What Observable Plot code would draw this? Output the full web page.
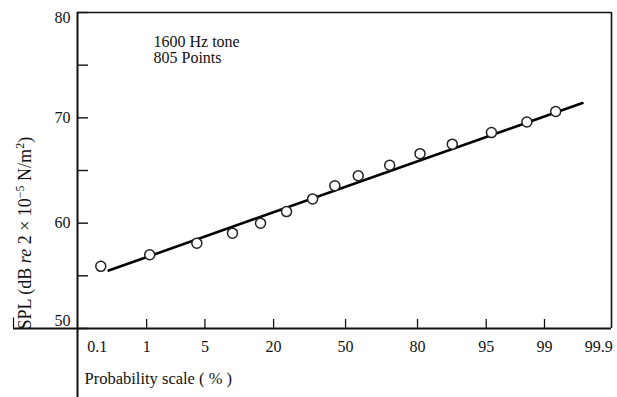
<!DOCTYPE html>
<html><head><meta charset="utf-8">
<script src="https://cdn.jsdelivr.net/npm/d3@7"></script>
<script src="https://cdn.jsdelivr.net/npm/@observablehq/plot@0.6"></script>
<style>
html,body{margin:0;padding:0;background:#fff;}
</style></head><body><div id="chart"></div>
<script>
// ---- data ----
const cumulativePercent = [0.21, 1.1, 4.1, 9.3, 16.0, 24.5, 35.0, 45.0, 55.9, 69.7, 80.8, 89.4, 95.6, 98.3, 99.3];
const splDb = [55.9, 57.0, 58.1, 59.05, 60.0, 61.1, 62.3, 63.55, 64.5, 65.5, 66.6, 67.5, 68.6, 69.6, 70.6];
const fitPercent = [0.28, 99.72];
const fitSplDb = [55.5, 71.4];
const xTickPercents = [1, 5, 20, 50, 80, 95, 99];
const xEndLabels = [0.1, 99.9];
const yLabelTicks = [50, 60, 70, 80];
const yTickMarks = [50, 55, 60, 65, 70, 75, 80];
const annotationLines = ["1600 Hz tone", "805 Points"];
const xAxisTitle = "Probability scale ( % )";

// ---- inverse normal CDF (probability paper) ----
function probit(p) {
  const a = [-3.969683028665376e+01, 2.209460984245205e+02, -2.759285104469687e+02, 1.383577518672690e+02, -3.066479806614716e+01, 2.506628277459239e+00];
  const b = [-5.447609879822406e+01, 1.615858368580409e+02, -1.556989798598866e+02, 6.680131188771972e+01, -1.328068155288572e+01];
  const c = [-7.784894002430293e-03, -3.223964580411365e-01, -2.400758277161838e+00, -2.549732539343734e+00, 4.374664141464968e+00, 2.938163982698783e+00];
  const d = [7.784695709041462e-03, 3.224671290700398e-01, 2.445134137142996e+00, 3.754408661907416e+00];
  const pl = 0.02425, ph = 1 - pl;
  let q, r;
  if (p < pl) { q = Math.sqrt(-2 * Math.log(p)); return (((((c[0]*q+c[1])*q+c[2])*q+c[3])*q+c[4])*q+c[5]) / ((((d[0]*q+d[1])*q+d[2])*q+d[3])*q+1); }
  if (p <= ph) { q = p - 0.5; r = q*q; return (((((a[0]*r+a[1])*r+a[2])*r+a[3])*r+a[4])*r+a[5])*q / (((((b[0]*r+b[1])*r+b[2])*r+b[3])*r+b[4])*r+1); }
  q = Math.sqrt(-2 * Math.log(1 - p));
  return -(((((c[0]*q+c[1])*q+c[2])*q+c[3])*q+c[4])*q+c[5]) / ((((d[0]*q+d[1])*q+d[2])*q+d[3])*q+1);
}
const z = pct => probit(pct / 100);

// ---- layout ----
const W = 617, H = 397, mt = 12, mb = 69, ml = 77, mr = 6;
const yDomain = [50, 80];
const xDomain = [-3.135, 3.11];
const yExt = yDomain[0] - mb * (yDomain[1] - yDomain[0]) / (H - mt - mb);
const xExt = xDomain[0] - (ml - 13) * (xDomain[1] - xDomain[0]) / (W - ml - mr);

const points = cumulativePercent.map((p, i) => ({z: z(p), spl: splDb[i]}));
const fit = fitPercent.map((p, i) => ({z: z(p), spl: fitSplDb[i]}));
const ink = "#111";
const yLab = {frameAnchor: "left", dx: -7, textAnchor: "end", fontSize: 16, fill: ink, y: d => d, text: d => String(d)};
const xLab = {x: d => z(d), frameAnchor: "bottom", dy: 23, text: d => String(d), fontSize: 16, fill: ink};

const chart = Plot.plot({
  width: W, height: H,
  marginTop: mt, marginBottom: mb, marginLeft: ml, marginRight: mr,
  style: {fontFamily: "'Liberation Serif', serif", fontSize: "16px", color: ink, background: "#fff", overflow: "visible"},
  x: {type: "linear", domain: xDomain},
  y: {type: "linear", domain: yDomain},
  marks: [
    // frame: top & right
    Plot.ruleY([yDomain[1]], {x1: xDomain[0], x2: xDomain[1], stroke: ink, strokeWidth: 1.4}),
    Plot.ruleX([xDomain[1]], {y1: yDomain[0], y2: yDomain[1], stroke: ink, strokeWidth: 1.6}),
    // crossing axes lines
    Plot.ruleY([yDomain[0]], {x1: xExt, x2: xDomain[1], stroke: ink, strokeWidth: 1.8}),
    Plot.ruleX([xDomain[0]], {y1: yExt, y2: yDomain[1], stroke: ink, strokeWidth: 2}),
    Plot.ruleX([xExt], {y1: yDomain[0], y2: yDomain[0] + 1, stroke: ink, strokeWidth: 1.2}),
    // inward tick marks
    Plot.axisY(yTickMarks, {anchor: "left", tickSize: -11, tickFormat: () => "", label: null, stroke: ink, strokeWidth: 1.4}),
    Plot.axisX(xTickPercents.map(z), {anchor: "bottom", tickSize: -9, tickFormat: () => "", label: null, stroke: ink, strokeWidth: 1.3}),
    // y tick labels (end labels kept inside the axis range)
    Plot.text(yLabelTicks.slice(1, 3), yLab),
    Plot.text(yLabelTicks.slice(3), {...yLab, dy: 5}),
    Plot.text(yLabelTicks.slice(0, 1), {...yLab, dy: -8}),
    // x tick labels
    Plot.text(xTickPercents, xLab),
    Plot.text(xEndLabels.slice(0, 1), {...xLab, dx: 6, textAnchor: "start"}),
    Plot.text(xEndLabels.slice(1), {...xLab, dx: 3, textAnchor: "end"}),
    // fitted line and data points
    Plot.line(fit, {x: "z", y: "spl", stroke: "#000", strokeWidth: 2.6}),
    Plot.dot(points, {x: "z", y: "spl", r: 5, fill: "#fff", stroke: "#222", strokeWidth: 1.5}),
    // annotation
    Plot.text([annotationLines.join("\n")], {frameAnchor: "top-left", dx: 76, dy: 23, lineAnchor: "top", textAnchor: "start", lineHeight: 1.0, fontSize: 16, fill: ink}),
    // axis titles
    Plot.text([xAxisTitle], {frameAnchor: "bottom-left", dx: 7, dy: 55, textAnchor: "start", fontSize: 16.5, fill: ink}),
    Plot.text(["SPL"], {frameAnchor: "bottom-left", dx: -52, dy: 1, rotate: -90, textAnchor: "start", lineAnchor: "middle", fontSize: 18, fill: ink, className: "ylab"})
  ]
});

// rich y-axis title: SPL (dB re 2 × 10⁻⁵ N/m²)
const t = d3.select(chart).select(".ylab text");
t.text(null);
t.append("tspan").text("SPL (dB ");
t.append("tspan").attr("font-style", "italic").text("re");
t.append("tspan").text(" 2 \u00d7 10");
t.append("tspan").attr("dy", -7).attr("font-size", 12).text("\u22125");
t.append("tspan").attr("dy", 7).text(" N/m");
t.append("tspan").attr("dy", -7).attr("font-size", 12).text("2");
t.append("tspan").attr("dy", 7).text(")");

document.getElementById("chart").appendChild(chart);
</script>
</body></html>
